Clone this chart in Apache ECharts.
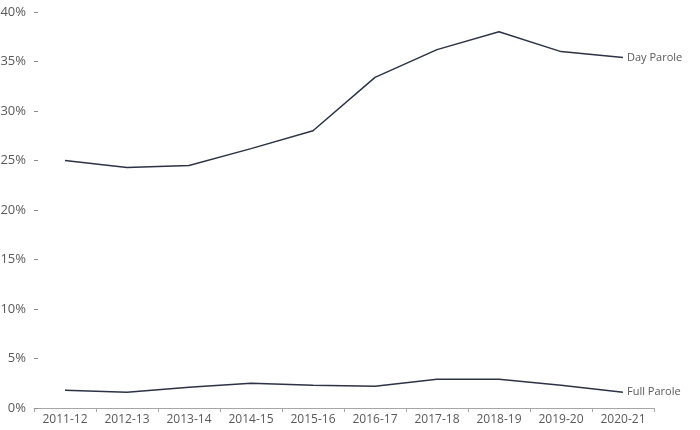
<!DOCTYPE html>
<html><head><meta charset="utf-8">
<script src="https://cdn.jsdelivr.net/npm/echarts@6/dist/echarts.min.js"></script>
<style>html,body{margin:0;padding:0;background:#fff}#c{width:700px;height:430px}</style>
</head><body><div id="c"></div>
<script>
const categories = ['2011-12','2012-13','2013-14','2014-15','2015-16','2016-17','2017-18','2018-19','2019-20','2020-21'];
const dayParole = [25.0, 24.3, 24.5, 26.2, 28.0, 33.4, 36.2, 38.0, 36.0, 35.4];
const fullParole = [1.8, 1.6, 2.1, 2.5, 2.3, 2.2, 2.9, 2.9, 2.3, 1.6];
const seriesNames = ['Day Parole', 'Full Parole'];

const chart = echarts.init(document.getElementById('c'));
const font = "'Open Sans', 'Liberation Sans', sans-serif";
function lineSeries(name, data) {
  return {
    name, type: 'line', data, symbol: 'none',
    lineStyle: { color: '#2b3345', width: 1.5 },
    itemStyle: { color: '#2b3345' },
    endLabel: { show: true, formatter: '{a}', color: '#595959', fontSize: 11, fontFamily: font, distance: 4 },
    animation: false
  };
}
chart.setOption({
  animation: false,
  grid: { left: 34, right: 46, top: 12, bottom: 22, containLabel: false, outerBoundsMode: 'none' },
  xAxis: {
    type: 'category', data: categories, boundaryGap: true,
    axisLine: { show: true, lineStyle: { color: '#a6a6a6', width: 1 } },
    axisTick: { show: true, length: 4, lineStyle: { color: '#a6a6a6' } },
    axisLabel: { color: '#595959', fontSize: 12, fontFamily: font, margin: 6 }
  },
  yAxis: {
    type: 'value', min: 0, max: 40, interval: 5,
    splitLine: { show: false },
    axisLine: { show: false },
    axisTick: { show: true, inside: true, length: 4, lineStyle: { color: '#8c8c8c' } },
    axisLabel: { color: '#595959', fontSize: 13, fontFamily: font, formatter: '{value}%', margin: 8 }
  },
  series: [lineSeries(seriesNames[0], dayParole), lineSeries(seriesNames[1], fullParole)]
});
</script></body></html>
